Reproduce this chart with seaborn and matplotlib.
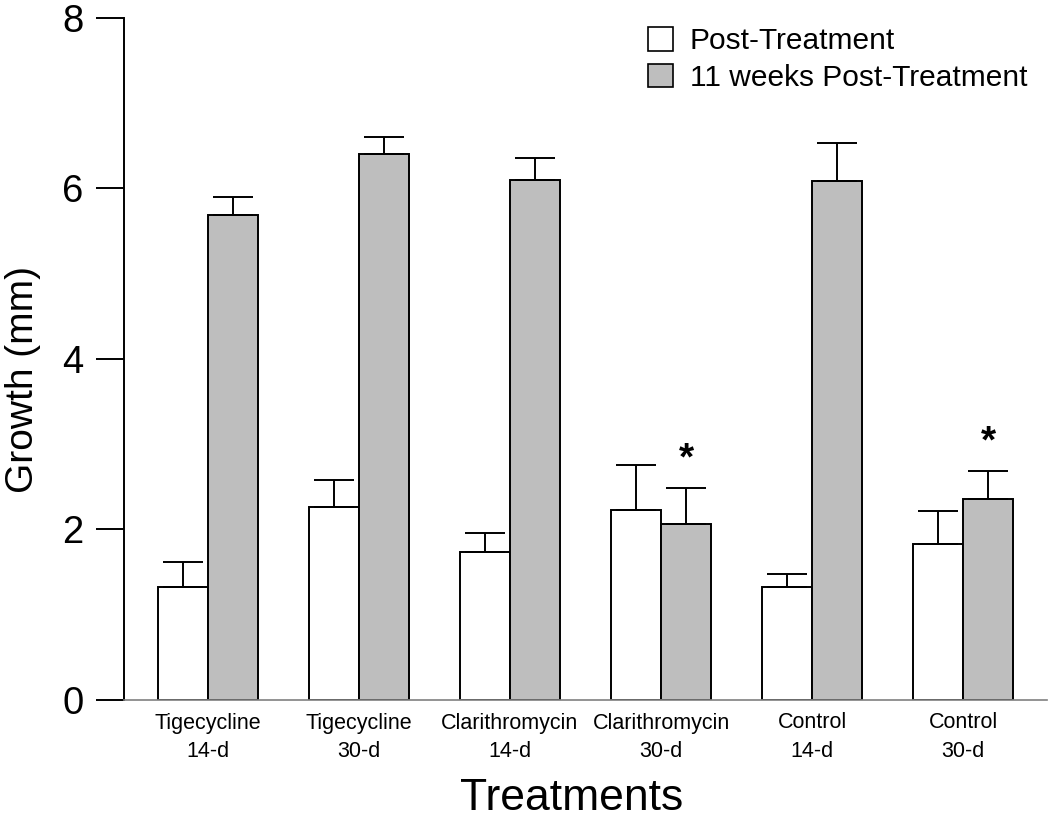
import numpy as np
import pandas as pd
import matplotlib
matplotlib.use('Agg')
import matplotlib.pyplot as plt
import seaborn as sns
from matplotlib.patches import Patch

# data
treatments = ['Tigecycline\n14-d', 'Tigecycline\n30-d', 'Clarithromycin\n14-d',
              'Clarithromycin\n30-d', 'Control\n14-d', 'Control\n30-d']
groups = ['Post-Treatment', '11 weeks Post-Treatment']
post_mean = [1.33, 2.26, 1.73, 2.23, 1.33, 1.83]
post_err = [0.29, 0.32, 0.23, 0.52, 0.15, 0.39]
wk11_mean = [5.69, 6.40, 6.10, 2.06, 6.09, 2.36]
wk11_err = [0.21, 0.20, 0.26, 0.43, 0.44, 0.33]
signif = [False, False, False, True, False, True]   # asterisks on 11-week bars

df = pd.DataFrame({
    'treatment': treatments * 2,
    'growth': post_mean + wk11_mean,
    'time': [groups[0]] * 6 + [groups[1]] * 6,
})

sns.set_style("ticks")
plt.rcParams['font.family'] = ['Liberation Sans', 'DejaVu Sans']
for k in ['text.color', 'axes.labelcolor', 'xtick.color', 'ytick.color']:
    plt.rcParams[k] = 'black'

fig = plt.figure(figsize=(10.5, 8.19), dpi=100)
ax = fig.add_axes([124/1050, 1 - 700/819, (1047 - 124)/1050, (700 - 17.7)/819])

gray = '#bebebe'
sns.barplot(data=df, x='treatment', y='growth', hue='time', order=treatments,
            hue_order=groups, palette=['white', gray], edgecolor='black',
            linewidth=1.4, width=0.662, gap=0, errorbar=None, legend=False, ax=ax)

# upper-only error bars, placed at the centre of each drawn bar
for cont, errs, means in zip(ax.containers, [post_err, wk11_err], [post_mean, wk11_mean]):
    xs = [b.get_x() + b.get_width() / 2 for b in cont]
    ax.errorbar(xs, means, yerr=[np.zeros(len(errs)), errs], fmt='none',
                ecolor='black', elinewidth=1.4, capsize=14.6, capthick=1.4, zorder=3)

# significance asterisks
for b, m, e, s in zip(ax.containers[1], wk11_mean, wk11_err, signif):
    if s:
        ax.text(b.get_x() + b.get_width() / 2, m + e + 0.33, '*', ha='center',
                va='center', fontsize=28, fontweight='bold')

ax.set_ylim(0, 8)
ax.set_xlim(-0.556, 5.556)
ax.set_yticks([0, 2, 4, 6, 8])
ax.tick_params(axis='y', length=20, width=1.4, pad=9, labelsize=27.5, direction='out')
ax.tick_params(axis='x', length=0, pad=9, labelsize=15.5)
for lab in ax.get_xticklabels():
    lab.set_linespacing(1.45)

sns.despine(ax=ax)
ax.spines['left'].set_linewidth(1.4)
ax.spines['left'].set_color('black')
ax.spines['bottom'].set_linewidth(1.2)
ax.spines['bottom'].set_color('#808080')

ax.set_ylabel('Growth (mm)', fontsize=28)
ax.set_xlabel('Treatments', fontsize=32)
ax.yaxis.set_label_coords(-0.09, 0.47)
ax.xaxis.set_label_coords(0.485, -0.115)

handles = [Patch(facecolor='white', edgecolor='black', lw=1.2),
           Patch(facecolor=gray, edgecolor='black', lw=1.2)]
fig.legend(handles, groups, loc='upper left', bbox_to_anchor=(648/1050, 1 - 27/819),
           frameon=False, fontsize=21.5, handlelength=0.85, handleheight=0.85,
           handletextpad=0.55, labelspacing=0.28, borderpad=0, borderaxespad=0)

plt.savefig('out.png', dpi=100)
